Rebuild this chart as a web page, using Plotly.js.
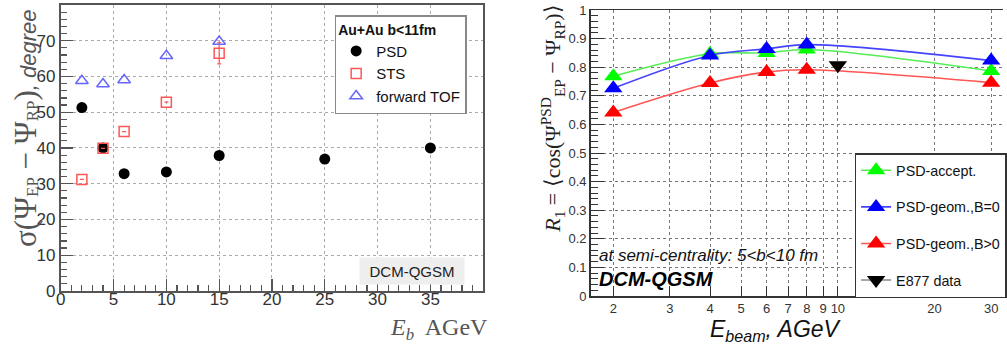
<!DOCTYPE html>
<html>
<head>
<meta charset="utf-8">
<script src="https://cdn.plot.ly/plotly-3.0.1.min.js"></script>
<style>
html,body{margin:0;padding:0;background:#fff;overflow:hidden;}
#chart{width:1007px;height:344px;}
</style>
</head>
<body>
<div id="chart"></div>
<script>
// ---- Left panel data: sigma(Psi_EP - Psi_RP), degree vs E_b ----
const psdX = [2, 4, 6, 10, 15, 25, 35];
const psdY = [51.3, 40.0, 32.8, 33.3, 37.9, 36.9, 40.0];
const stsX = [2, 4, 6, 10, 15];
const stsY = [31.2, 39.9, 44.6, 52.8, 66.5];
const stsErr = [0, 0, 0, 0, 3.0];
const tofX = [2, 4, 6, 10, 15];
const tofY = [58.8, 57.9, 59.0, 65.8, 69.8];

// ---- Right panel data: R1 vs E_beam ----
const beamX = [2, 4, 6, 8, 30];
const acceptY = [0.768, 0.847, 0.850, 0.862, 0.787];
const geomB0Y = [0.726, 0.841, 0.864, 0.879, 0.823];
const geomBposY = [0.642, 0.745, 0.783, 0.791, 0.746];
const e877X = [10];
const e877Y = [0.807];

const axisCol = '#555';
const tickFont = {family: 'Liberation Sans, Arial, sans-serif', size: 17, color: '#333'};
const tickFontR = {family: 'Liberation Sans, Arial, sans-serif', size: 13, color: '#333'};

const traces = [
  {x: psdX, y: psdY, name: 'PSD', mode: 'markers', type: 'scatter', xaxis: 'x', yaxis: 'y',
   legend: 'legend', legendgroup: 'a',
   marker: {symbol: 'circle', size: 11, color: '#000'}},
  {x: stsX, y: stsY, name: 'STS', mode: 'markers', type: 'scatter', xaxis: 'x', yaxis: 'y',
   legend: 'legend', legendgroup: 'b',
   error_y: {type: 'data', array: stsErr, visible: true, color: '#f55', thickness: 1.2, width: 2},
   marker: {symbol: 'square-open', size: 10, color: '#f55', line: {width: 1.5, color: '#f55'}}},
  {x: tofX, y: tofY, name: 'forward TOF', mode: 'markers', type: 'scatter', xaxis: 'x', yaxis: 'y',
   legend: 'legend', legendgroup: 'c',
   marker: {symbol: 'triangle-up-open', size: 11, color: '#66f', line: {width: 1.5, color: '#66f'}}},

  {x: beamX, y: acceptY, name: 'PSD-accept.', mode: 'lines+markers', type: 'scatter', xaxis: 'x2', yaxis: 'y2',
   legend: 'legend2', legendgroup: 'd',
   line: {shape: 'spline', smoothing: 1, color: '#55ee55', width: 1.6},
   marker: {symbol: 'triangle-up', size: 16, color: '#00ff00'}},
  {x: beamX, y: geomB0Y, name: 'PSD-geom.,B=0', mode: 'lines+markers', type: 'scatter', xaxis: 'x2', yaxis: 'y2',
   legend: 'legend2', legendgroup: 'e',
   line: {shape: 'spline', smoothing: 1, color: '#4444ff', width: 1.6},
   marker: {symbol: 'triangle-up', size: 16, color: '#0000ff'}},
  {x: beamX, y: geomBposY, name: 'PSD-geom.,B>0', mode: 'lines+markers', type: 'scatter', xaxis: 'x2', yaxis: 'y2',
   legend: 'legend2', legendgroup: 'f',
   line: {shape: 'spline', smoothing: 1, color: '#ff5555', width: 1.6},
   marker: {symbol: 'triangle-up', size: 16, color: '#ff0000'}},
  {x: e877X, y: e877Y, name: 'E877 data', mode: 'lines+markers', type: 'scatter', xaxis: 'x2', yaxis: 'y2',
   legend: 'legend2', legendgroup: 'g',
   line: {color: '#888', width: 1.6},
   marker: {symbol: 'triangle-down', size: 16, color: '#000'}}
];

const layout = {
  width: 1007, height: 344,
  margin: {l: 0, r: 0, t: 0, b: 0},
  paper_bgcolor: '#fff', plot_bgcolor: '#fff',
  showlegend: true,
  xaxis: {
    domain: [61/1007, 485/1007], range: [0, 39.99], anchor: 'y',
    dtick: 5, tick0: 0, ticks: 'inside', ticklen: 12, tickcolor: axisCol, tickwidth: 1.2,
    minor: {dtick: 1, tick0: 0, ticks: 'inside', ticklen: 6, tickcolor: axisCol, showgrid: false},
    showline: true, linecolor: axisCol, linewidth: 2, mirror: true,
    showgrid: true, gridcolor: '#aaa', griddash: 'dot', gridwidth: 1,
    zeroline: false, tickfont: tickFont, automargin: false, ticklabelstandoff: -8
  },
  yaxis: {
    domain: [53/344, 339/344], range: [0, 79.99], anchor: 'x',
    dtick: 10, tick0: 0, ticks: 'inside', ticklen: 12, tickcolor: axisCol, tickwidth: 1.2,
    minor: {dtick: 2, tick0: 0, ticks: 'inside', ticklen: 6, tickcolor: axisCol, showgrid: false},
    showline: true, linecolor: axisCol, linewidth: 2, mirror: true,
    showgrid: true, gridcolor: '#aaa', griddash: 'dot', gridwidth: 1,
    zeroline: false, tickfont: tickFont, automargin: false
  },
  xaxis2: {
    type: 'log', domain: [593/1007, 1], range: [0.2305, 1.514], anchor: 'y2',
    tickvals: [2, 3, 4, 5, 6, 7, 8, 9, 10, 20, 30],
    ticktext: ['2', '3', '4', '5', '6', '7', '8', '9', '10', '20', '30'],
    ticks: 'inside', ticklen: 10, tickcolor: '#333', tickwidth: 1,
    showline: true, linecolor: '#333', linewidth: 1.5, mirror: true,
    showgrid: true, gridcolor: '#777', griddash: 'dot', gridwidth: 1,
    zeroline: false, tickfont: tickFontR, automargin: false
  },
  yaxis2: {
    domain: [48/344, 334/344], range: [0, 1], anchor: 'x2',
    dtick: 0.1, tick0: 0, ticks: 'inside', ticklen: 13, tickcolor: '#333', tickwidth: 1,
    minor: {dtick: 0.02, tick0: 0, ticks: 'inside', ticklen: 7, tickcolor: '#333', showgrid: false},
    showline: true, linecolor: '#333', linewidth: 1.5, mirror: false,
    showgrid: true, gridcolor: '#777', griddash: 'dot', gridwidth: 1,
    zeroline: false, tickfont: tickFontR, automargin: false
  },
  legend: {
    x: 336/1007, y: 1 - 15/344, xanchor: 'left', yanchor: 'top',
    bgcolor: '#fff', bordercolor: '#888', borderwidth: 1.5,
    font: {family: 'Liberation Sans, Arial, sans-serif', size: 15, color: '#111'},
    title: {text: '<b>Au+Au b&lt;11fm</b>', font: {family: 'Liberation Sans, Arial, sans-serif', size: 14, color: '#111'}},
    tracegroupgap: 0, itemclick: false
  },
  legend2: {
    x: 858/1007, y: 1 - 153/344, xanchor: 'left', yanchor: 'top',
    bgcolor: '#fff', bordercolor: '#333', borderwidth: 1.5,
    font: {family: 'Liberation Sans, Arial, sans-serif', size: 14.3, color: '#111'},
    tracegroupgap: 15, itemclick: false
  },
  annotations: [
    {xref: 'paper', yref: 'paper', x: 25/1007, y: 1 - 128/344, xanchor: 'center', yanchor: 'middle',
     textangle: -90, showarrow: false,
     text: '<span style="font-family:Liberation Serif,Times New Roman,serif;font-size:31px">σ(Ψ</span><sub><span style="font-family:Liberation Serif,serif;font-size:17px">EP</span></sub><span style="font-family:Liberation Serif,serif;font-size:31px"> − Ψ</span><sub><span style="font-family:Liberation Serif,serif;font-size:17px">RP</span></sub><span style="font-family:Liberation Serif,serif;font-size:31px">)</span><span style="font-family:Liberation Sans,Arial,sans-serif;font-size:22px"><i>, degree</i></span>',
     font: {color: '#555'}},
    {xref: 'paper', yref: 'paper', x: 441/1007, y: 1 - 329/344, xanchor: 'center', yanchor: 'middle',
     showarrow: false,
     text: '<i>E</i><sub><i>b</i></sub>  AGeV',
     font: {family: 'Liberation Serif, Times New Roman, serif', size: 24, color: '#555'}},
    {xref: 'paper', yref: 'paper', x: 414/1007, y: 1 - 271/344, xanchor: 'center', yanchor: 'middle',
     showarrow: false, text: 'DCM-QGSM', bgcolor: '#eeeeee', width: 102, height: 24,
     font: {family: 'Liberation Sans, Arial, sans-serif', size: 15, color: '#222'}},
    {xref: 'paper', yref: 'paper', x: 555/1007, y: 1 - 119/344, xanchor: 'center', yanchor: 'middle',
     textangle: -90, showarrow: false,
     text: '<i>R</i><sub>1</sub> = ⟨cos(Ψ<sup>PSD</sup><sub>EP</sub> − Ψ<sub>RP</sub>)⟩',
     font: {family: 'Liberation Serif, Times New Roman, serif', size: 22, color: '#222'}},
    {xref: 'paper', yref: 'paper', x: 779/1007, y: 1 - 330/344, xanchor: 'center', yanchor: 'middle',
     showarrow: false,
     text: '<i>E</i><sub><i>beam</i></sub><i>, AGeV</i>',
     font: {family: 'Liberation Sans, Arial, sans-serif', size: 23, color: '#111'}},
    {xref: 'paper', yref: 'paper', x: 599/1007, y: 1 - 255/344, xanchor: 'left', yanchor: 'middle',
     showarrow: false,
     text: '<i>at semi-centrality: 5&lt;b&lt;10 fm</i>',
     font: {family: 'Liberation Sans, Arial, sans-serif', size: 17, color: '#111'}},
    {xref: 'paper', yref: 'paper', x: 599/1007, y: 1 - 279/344, xanchor: 'left', yanchor: 'middle',
     showarrow: false,
     text: '<b><i>DCM-QGSM</i></b>',
     font: {family: 'Liberation Sans, Arial, sans-serif', size: 20, color: '#000'}}
  ]
};

Plotly.newPlot('chart', traces, layout, {displayModeBar: false, staticPlot: true});
</script>
</body>
</html>
